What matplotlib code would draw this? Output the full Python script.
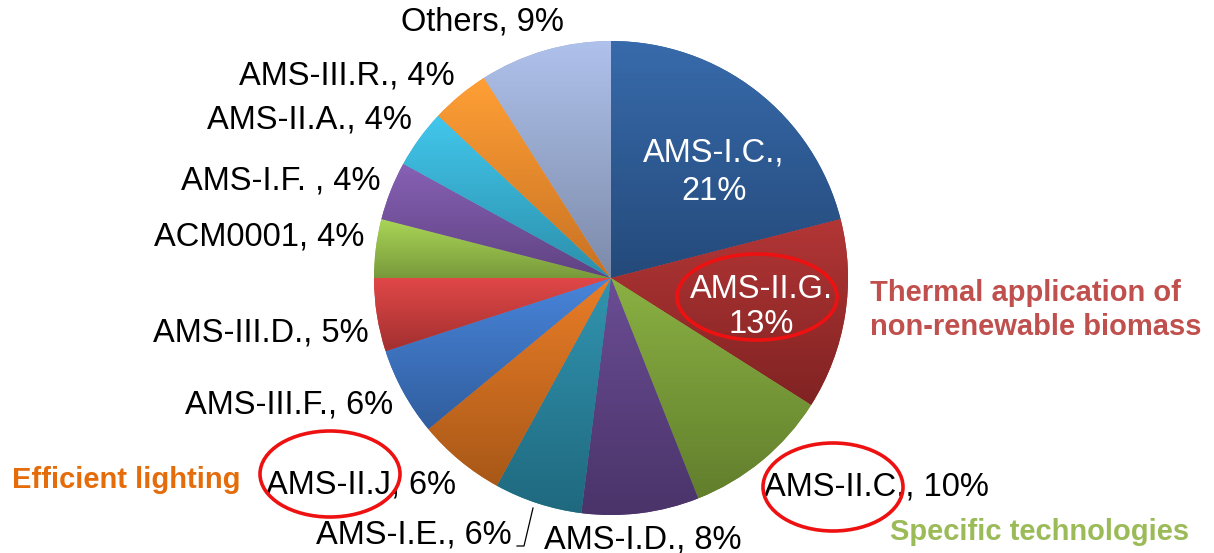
import numpy as np
import matplotlib
matplotlib.use("Agg")
import matplotlib.pyplot as plt
from matplotlib.patches import Ellipse
from matplotlib.colors import to_rgb

# slices, clockwise from 12 o'clock
names = ["AMS-I.C.", "AMS-II.G.", "AMS-II.C.", "AMS-I.D.", "AMS-I.E.", "AMS-II.J",
         "AMS-III.F.", "AMS-III.D.", "ACM0001", "AMS-I.F. ", "AMS-II.A.", "AMS-III.R.",
         "Others"]
shares = [21, 13, 10, 8, 6, 6, 6, 5, 4, 4, 4, 4, 9]
colors = ["#2c5a95", "#9c2a2a", "#779a36", "#5a3f80", "#26809a", "#cd6b1d",
          "#3b72c0", "#c63a3a", "#93bb48", "#74519e", "#35aed0", "#f38a2a",
          "#98a9cf"]

W, H = 1214, 553


def py(y):
    # pixel row (from top) -> data y
    return H - y


# label centres in pixels (x, y from top)
label_pos = [(714, 172), (761, 307), (876, 487), (643, 540), (414, 535), (361, 485),
             (289, 405), (261, 333), (259, 237), (281, 181), (309, 120), (347, 76),
             (482, 22)]
inside = {0: 1.32, 1: 1.18}   # index -> line spacing

fig = plt.figure(figsize=(W / 100, H / 100), dpi=100)
ax = fig.add_axes([0, 0, 1, 1])

cx, cy, r = 611, 278, 237
wedges, _ = ax.pie(shares, colors=colors, startangle=90, counterclock=False,
                   center=(cx, py(cy)), radius=r, wedgeprops=dict(linewidth=0))

# soft vertical gradient on each slice, like the office chart style
for w, c in zip(wedges, colors):
    base = np.array(to_rgb(c))
    t = np.linspace(0, 1, 256)[:, None]
    top = np.clip(base * 1.10 + 0.03, 0, 1)
    bot = base * 0.82
    img = (top * (1 - t) + bot * t)[:, None, :]
    ext = w.get_path().get_extents()
    im = ax.imshow(img, extent=(ext.x0, ext.x1, ext.y0, ext.y1), origin="upper",
                   aspect="auto", interpolation="bilinear", zorder=w.get_zorder() + 0.1)
    im.set_clip_path(w)

fnt = "Liberation Sans"
for i, (n, s) in enumerate(zip(names, shares)):
    x, y = label_pos[i]
    if i in inside:
        sep = ",\n" if i == 0 else "\n"
        ax.text(x, py(y), f"{n}{sep}{s}%", color="white", fontsize=23.5,
                family=fnt, ha="center", va="center", linespacing=inside[i], zorder=5)
    else:
        ax.text(x, py(y), f"{n}, {s}%", color="black", fontsize=23.5,
                family=fnt, ha="center", va="center", zorder=5)

# leader line for AMS-I.E.
ax.plot([533, 524, 517], [py(508), py(546), py(546)], color="black", lw=0.9, zorder=4)

# red highlight ellipses
for (ex, ey, ew, eh) in [(757, 297, 160, 86), (330, 474, 140, 86), (833, 487, 140, 88)]:
    ax.add_patch(Ellipse((ex, py(ey)), ew, eh, fill=False, edgecolor="#ee1111",
                         lw=2.6, zorder=6))

ax.text(870, py(310), "Thermal application of\nnon-renewable biomass", color="#c0504d",
        fontsize=21, fontweight="bold", family=fnt, ha="left", va="center",
        linespacing=1.28)
ax.text(12, py(480), "Efficient lighting", color="#e46c0a", fontsize=21,
        fontweight="bold", family=fnt, ha="left", va="center")
ax.text(890, py(532), "Specific technologies", color="#9bbb59", fontsize=21,
        fontweight="bold", family=fnt, ha="left", va="center")

ax.set_xlim(0, W)
ax.set_ylim(0, H)
ax.set_aspect("equal")
ax.axis("off")
fig.savefig("out.png", dpi=100)
